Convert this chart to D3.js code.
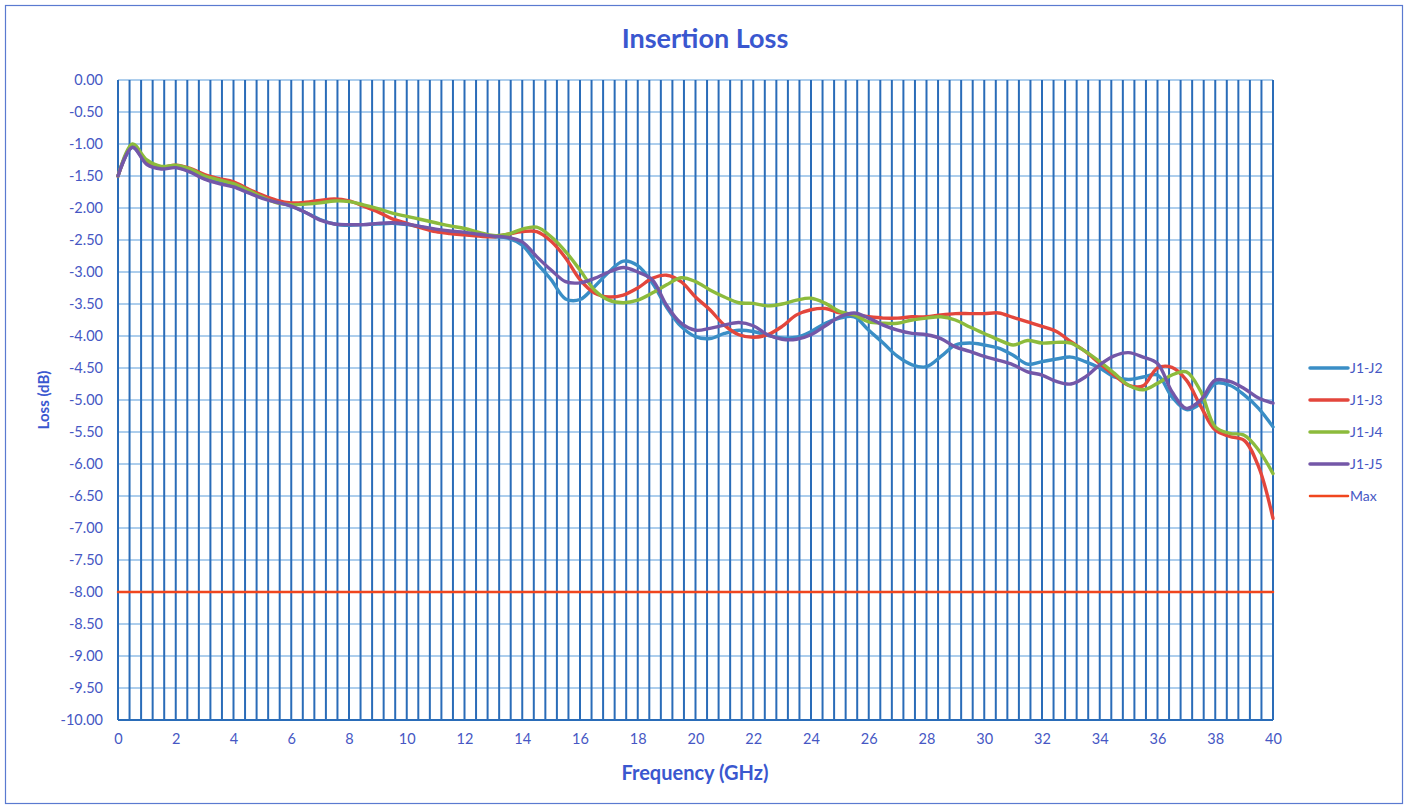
<!DOCTYPE html>
<html>
<head>
<meta charset="utf-8">
<script src="https://cdn.jsdelivr.net/npm/d3@7"></script>
<style>
body{margin:0;background:#fff;}
svg{display:block;font-family:Lato,"Open Sans",sans-serif;}
</style>
</head>
<body>
<svg id="chart" width="1410" height="806"></svg>
<script>
//////////////data (GHz / dB)
var freq=[0,0.5,1,1.5,2,2.5,3,3.5,4,4.5,5,5.5,6,6.5,7,7.5,8,8.5,9,9.5,10,10.5,11,11.5,12,12.5,13,13.5,14,14.5,15,15.5,16,16.5,17,17.5,18,18.5,19,19.5,20,20.5,21,21.5,22,22.5,23,23.5,24,24.5,25,25.5,26,26.5,27,27.5,28,28.5,29,29.5,30,30.5,31,31.5,32,32.5,33,33.5,34,34.5,35,35.5,36,36.5,37,37.5,38,38.5,39,39.5,40];

var j1j2=[-1.50,-1.05,-1.30,-1.37,-1.36,-1.43,-1.54,-1.60,-1.66,-1.75,-1.84,-1.90,-1.97,-2.07,-2.18,-2.25,-2.27,-2.26,-2.25,-2.24,-2.26,-2.30,-2.34,-2.37,-2.39,-2.42,-2.45,-2.47,-2.58,-2.86,-3.12,-3.42,-3.43,-3.23,-3.00,-2.83,-2.90,-3.17,-3.55,-3.85,-4.01,-4.04,-3.96,-3.91,-3.93,-3.99,-4.03,-4.02,-3.93,-3.80,-3.72,-3.70,-3.91,-4.11,-4.32,-4.45,-4.48,-4.32,-4.14,-4.11,-4.14,-4.19,-4.30,-4.44,-4.40,-4.36,-4.33,-4.40,-4.50,-4.64,-4.68,-4.64,-4.61,-4.95,-5.15,-5.05,-4.74,-4.77,-4.92,-5.13,-5.42];

var j1j3=[-1.50,-1.03,-1.28,-1.36,-1.33,-1.38,-1.48,-1.54,-1.59,-1.70,-1.80,-1.88,-1.92,-1.91,-1.88,-1.86,-1.89,-1.97,-2.06,-2.17,-2.24,-2.31,-2.37,-2.40,-2.42,-2.44,-2.45,-2.41,-2.37,-2.37,-2.52,-2.78,-3.12,-3.33,-3.39,-3.36,-3.25,-3.10,-3.05,-3.15,-3.39,-3.59,-3.83,-3.98,-4.02,-3.98,-3.85,-3.67,-3.59,-3.57,-3.64,-3.67,-3.70,-3.72,-3.72,-3.70,-3.70,-3.67,-3.65,-3.65,-3.65,-3.64,-3.71,-3.78,-3.85,-3.93,-4.09,-4.24,-4.43,-4.61,-4.77,-4.78,-4.50,-4.49,-4.69,-5.10,-5.47,-5.57,-5.63,-6.04,-6.85];

var j1j4=[-1.50,-1.00,-1.25,-1.35,-1.33,-1.39,-1.50,-1.56,-1.62,-1.72,-1.83,-1.92,-1.95,-1.94,-1.92,-1.89,-1.90,-1.95,-2.01,-2.08,-2.13,-2.18,-2.23,-2.28,-2.32,-2.38,-2.43,-2.41,-2.33,-2.30,-2.45,-2.68,-2.97,-3.28,-3.44,-3.48,-3.44,-3.33,-3.20,-3.09,-3.15,-3.28,-3.39,-3.48,-3.49,-3.53,-3.50,-3.44,-3.41,-3.49,-3.62,-3.67,-3.78,-3.80,-3.80,-3.75,-3.72,-3.70,-3.75,-3.86,-3.96,-4.06,-4.14,-4.07,-4.11,-4.10,-4.11,-4.24,-4.40,-4.58,-4.77,-4.84,-4.74,-4.61,-4.56,-4.87,-5.42,-5.52,-5.55,-5.78,-6.15];

var j1j5=[-1.50,-1.05,-1.32,-1.39,-1.37,-1.44,-1.55,-1.62,-1.67,-1.76,-1.85,-1.91,-1.97,-2.07,-2.19,-2.25,-2.26,-2.26,-2.24,-2.23,-2.25,-2.29,-2.33,-2.36,-2.38,-2.41,-2.44,-2.46,-2.53,-2.76,-2.97,-3.15,-3.17,-3.10,-3.00,-2.93,-3.00,-3.12,-3.52,-3.80,-3.91,-3.88,-3.83,-3.79,-3.84,-3.98,-4.05,-4.05,-3.98,-3.84,-3.70,-3.64,-3.72,-3.83,-3.91,-3.96,-3.98,-4.04,-4.17,-4.24,-4.32,-4.38,-4.45,-4.56,-4.61,-4.71,-4.75,-4.64,-4.45,-4.31,-4.26,-4.33,-4.43,-4.87,-5.13,-5.00,-4.69,-4.71,-4.82,-4.97,-5.05];

var maxFreq=[0,40];
var maxLimit=[-8,-8];

var xTickLabels=[0,2,4,6,8,10,12,14,16,18,20,22,24,26,28,30,32,34,36,38,40];
var yTickLabels=[0,-0.5,-1,-1.5,-2,-2.5,-3,-3.5,-4,-4.5,-5,-5.5,-6,-6.5,-7,-7.5,-8,-8.5,-9,-9.5,-10];

var seriesNames=["J1-J2","J1-J3","J1-J4","J1-J5","Max"];

//////////////layout
var svg=d3.select("#chart");
var plot={left:118,right:1273,top:80,bottom:720};
var txtColor="#4657c4";

var x=d3.scaleLinear().domain([0,40]).range([plot.left,plot.right]);
var y=d3.scaleLinear().domain([-10,0]).range([plot.bottom,plot.top]);

//outer frame
svg.append("rect")
	.attr("x",5.5).attr("y",5.5)
	.attr("width",1397).attr("height",798)
	.attr("fill","none")
	.attr("stroke","#5a7ad0")
	.attr("stroke-width",1.2);

//title
svg.append("text")
	.attr("x",705).attr("y",48)
	.attr("text-anchor","middle")
	.attr("font-size",27)
	.attr("font-weight","bold")
	.attr("fill","#3a57cf")
	.text("Insertion Loss");

/////////////grid
//horizontal lines
svg.append("g")
	.selectAll("line")
	.data(yTickLabels)
	.join("line")
	.attr("x1",plot.left).attr("x2",plot.right)
	.attr("y1",function(d){return y(d);})
	.attr("y2",function(d){return y(d);})
	.attr("stroke","#5d9ddb")
	.attr("stroke-width",1.2);

//vertical lines, one every 0.4 GHz
svg.append("g")
	.selectAll("line")
	.data(d3.range(0,40.001,0.4))
	.join("line")
	.attr("x1",function(d){return x(d);})
	.attr("x2",function(d){return x(d);})
	.attr("y1",plot.top).attr("y2",plot.bottom)
	.attr("stroke","#2a6cb8")
	.attr("stroke-width",2);

//bottom edge
svg.append("line")
	.attr("x1",plot.left).attr("x2",plot.right)
	.attr("y1",plot.bottom).attr("y2",plot.bottom)
	.attr("stroke","#2a6cb8")
	.attr("stroke-width",2);

/////////////axes
//plain hyphen for negatives, like the original sheet
var fmtY=function(d){return (d<0?"-":"")+Math.abs(d).toFixed(2);};

var xAxis=d3.axisBottom(x).tickValues(xTickLabels).tickSize(0).tickPadding(14).tickFormat(function(d){return String(d);});
var yAxis=d3.axisLeft(y).tickValues(yTickLabels).tickSize(0).tickPadding(15).tickFormat(fmtY);

var gx=svg.append("g").attr("transform","translate(0,"+plot.bottom+")").call(xAxis);
var gy=svg.append("g").attr("transform","translate("+plot.left+",0)").call(yAxis);
[gx,gy].forEach(function(g){
	g.select(".domain").remove();
	g.selectAll("text").attr("fill",txtColor).attr("font-size",14.5).attr("font-family","Lato,'Open Sans',sans-serif");
});

//axis titles
svg.append("text")
	.attr("x",695).attr("y",780)
	.attr("text-anchor","middle")
	.attr("font-size",20)
	.attr("font-weight","bold")
	.attr("fill","#3a57cf")
	.text("Frequency (GHz)");

svg.append("text")
	.attr("transform","translate(49,400) rotate(-90)")
	.attr("text-anchor","middle")
	.attr("font-size",15)
	.attr("font-weight","bold")
	.attr("fill","#3a57cf")
	.text("Loss (dB)");

/////////////series
var series=[
	{name:seriesNames[0],xs:freq,ys:j1j2,color:"#3a8ec6"},
	{name:seriesNames[1],xs:freq,ys:j1j3,color:"#e3463c"},
	{name:seriesNames[2],xs:freq,ys:j1j4,color:"#8cbb3c"},
	{name:seriesNames[3],xs:freq,ys:j1j5,color:"#7457a8"},
	{name:seriesNames[4],xs:maxFreq,ys:maxLimit,color:"#f0461e"}
];

var line=d3.line()
	.x(function(d){return x(d[0]);})
	.y(function(d){return y(d[1]);})
	.curve(d3.curveCatmullRom.alpha(0.5));

series.forEach(function(s){
	var pts=s.xs.map(function(f,i){return [f,s.ys[i]];});
	svg.append("path")
		.datum(pts)
		.attr("d",line)
		.attr("fill","none")
		.attr("stroke",s.color)
		.attr("stroke-width",s.name==="Max"?2.5:3.4)
		.attr("stroke-linejoin","round")
		.attr("stroke-linecap","round");
});

/////////////legend
var legend=svg.append("g").attr("transform","translate(1310,368)");
var item=legend.selectAll("g")
	.data(series)
	.join("g")
	.attr("transform",function(d,i){return "translate(0,"+(i*32)+")";});
item.append("line")
	.attr("x1",0).attr("x2",38)
	.attr("stroke",function(d){return d.color;})
	.attr("stroke-width",function(d){return d.name==="Max"?2.5:3.5;})
	.attr("stroke-linecap","round");
item.append("text")
	.attr("x",40).attr("y",5)
	.attr("font-size",14)
	.attr("fill",txtColor)
	.text(function(d){return d.name;});
</script>
</body>
</html>
